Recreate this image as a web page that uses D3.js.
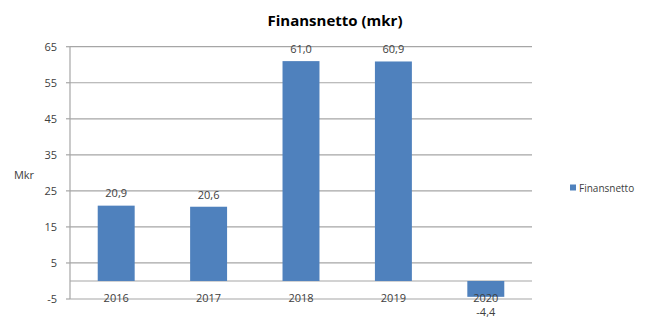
<!DOCTYPE html>
<html><head><meta charset="utf-8">
<script src="https://cdn.jsdelivr.net/npm/d3@7"></script>
<style>body{margin:0;background:#fff;} svg{display:block;}</style>
</head><body>
<svg id="chart" width="653" height="318"></svg>
<script>
const categories = ["2016", "2017", "2018", "2019", "2020"];
const values = [20.9, 20.6, 61.0, 60.9, -4.4];
const tickValues = [65, 55, 45, 35, 25, 15, 5, -5];
const seriesName = "Finansnetto";
const title = "Finansnetto (mkr)";
const yLabel = "Mkr";

const svg = d3.select("#chart");
const font = "'Open Sans', 'Liberation Sans', sans-serif";
const m = {left: 70, right: 532, top: 46.7, bottom: 299};
const x = d3.scaleBand().domain(categories).range([m.left, m.right]).paddingInner(0.6).paddingOuter(0.3);
const y = d3.scaleLinear().domain([-5, 65]).range([m.bottom, m.top]);
const grid = "#a6a6a6";

// gridlines
svg.append("g").selectAll("line").data(tickValues).join("line")
  .attr("x1", m.left).attr("x2", m.right)
  .attr("y1", d => y(d)).attr("y2", d => y(d))
  .attr("stroke", grid).attr("stroke-width", 1.2);
// zero line
svg.append("line").attr("x1", m.left).attr("x2", m.right)
  .attr("y1", y(0)).attr("y2", y(0)).attr("stroke", grid).attr("stroke-width", 1.2);
// y axis line + ticks
svg.append("line").attr("x1", m.left).attr("x2", m.left).attr("y1", m.top).attr("y2", m.bottom)
  .attr("stroke", grid).attr("stroke-width", 1.2);
svg.append("g").selectAll("line").data(tickValues).join("line")
  .attr("x1", m.left - 4).attr("x2", m.left).attr("y1", d => y(d)).attr("y2", d => y(d))
  .attr("stroke", grid).attr("stroke-width", 1.2);
// tick labels
svg.append("g").selectAll("text").data(tickValues).join("text")
  .attr("x", 57).attr("y", d => y(d)).attr("dy", "0.35em").attr("text-anchor", "end")
  .attr("font-family", font).attr("font-size", 11).attr("fill", "#404040").text(d => d);

// y label
svg.append("text").attr("x", 24).attr("y", 175).attr("dy", "0.35em").attr("text-anchor", "middle")
  .attr("font-family", font).attr("font-size", 11).attr("fill", "#404040").text(yLabel);

// bars
svg.append("g").selectAll("rect").data(values).join("rect")
  .attr("x", (d, i) => x(categories[i]))
  .attr("width", x.bandwidth())
  .attr("y", d => y(Math.max(0, d)))
  .attr("height", d => Math.abs(y(d) - y(0)))
  .attr("fill", "#4F81BD");

// category labels
svg.append("g").selectAll("text").data(categories).join("text")
  .attr("x", d => x(d) + x.bandwidth() / 2).attr("y", 298).attr("dy", "0.35em")
  .attr("text-anchor", "middle").attr("font-family", font).attr("font-size", 11).attr("fill", "#404040")
  .text(d => d);

// data labels
const fmt = v => d3.format(".1f")(v).replace(".", ",").replace("\u2212", "-");
svg.append("g").selectAll("text").data(values).join("text")
  .attr("x", (d, i) => x(categories[i]) + x.bandwidth() / 2)
  .attr("y", d => d >= 0 ? y(d) - 12 : y(d) + 15)
  .attr("dy", "0.35em").attr("text-anchor", "middle")
  .attr("font-family", font).attr("font-size", 11).attr("fill", "#404040")
  .text(d => fmt(d));

// title
svg.append("text").attr("x", 335).attr("y", 21).attr("dy", "0.35em").attr("text-anchor", "middle")
  .attr("font-family", font).attr("font-size", 15).attr("font-weight", "bold").attr("fill", "#000")
  .text(title);

// legend
svg.append("rect").attr("x", 570).attr("y", 184.5).attr("width", 6).attr("height", 6).attr("fill", "#4F81BD");
svg.append("text").attr("x", 579).attr("y", 188).attr("dy", "0.35em")
  .attr("font-family", font).attr("font-size", 10).attr("fill", "#404040").text(seriesName);
</script>
</body></html>
